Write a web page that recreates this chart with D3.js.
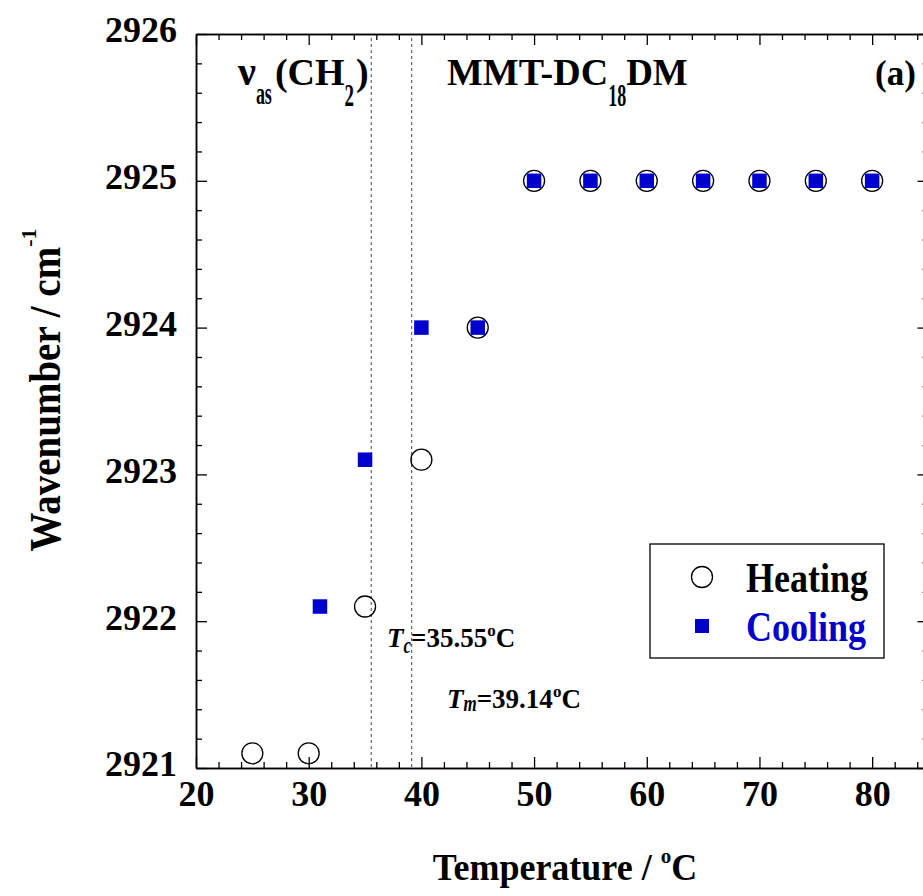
<!DOCTYPE html>
<html>
<head>
<meta charset="utf-8">
<script src="https://cdn.jsdelivr.net/npm/d3@7"></script>
<style>
  html, body { margin: 0; padding: 0; background: #fff; }
  svg { display: block; }
  text { font-family: "Liberation Serif", "Times New Roman", serif; font-weight: bold; white-space: pre; }
</style>
</head>
<body>
<svg id="chart" width="923" height="896"></svg>
<script>
// Heating / cooling scans of the CH2 antisymmetric stretch
const heatingTemp = [25, 30, 35, 40, 45, 50, 55, 60, 65, 70, 75, 80];
const heatingWavenumber = [2921.1, 2921.1, 2922.1, 2923.1, 2924.0, 2925.0, 2925.0, 2925.0, 2925.0, 2925.0, 2925.0, 2925.0];
const coolingTemp = [31, 35, 40, 45, 50, 55, 60, 65, 70, 75, 80];
const coolingWavenumber = [2922.1, 2923.1, 2924.0, 2924.0, 2925.0, 2925.0, 2925.0, 2925.0, 2925.0, 2925.0, 2925.0];

// Transition temperatures (crystallisation, melting)
const transitionNames = ["c", "m"];
const transitionTemp = [35.55, 39.14];

const seriesNames = ["Heating", "Cooling"];
const seriesColors = ["#000000", "#0000cc"];

const xDomain = [20, 85];
const yDomain = [2921, 2926];
const xMajorTicks = [20, 30, 40, 50, 60, 70, 80];
const yMajorTicks = [2921, 2922, 2923, 2924, 2925, 2926];

const svg = d3.select("#chart");
const plotLeft = 196, plotRight = 928.5, plotTop = 34, plotBottom = 768;

const x = d3.scaleLinear().domain(xDomain).range([plotLeft, plotRight]);
const y = d3.scaleLinear().domain(yDomain).range([plotBottom, plotTop]);

const xMinor = d3.range(22, 85, 2).filter(v => v % 10 !== 0);
const yMinor = d3.range(1, 25).map(i => +(2921 + i * 0.2).toFixed(1)).filter(v => !Number.isInteger(v));

function styleAxis(g) {
  g.selectAll("path.domain").attr("stroke", "#000").attr("stroke-width", 1.5);
  g.selectAll(".tick line").attr("stroke", "#000").attr("stroke-width", 1.3);
  g.selectAll(".tick text").attr("font-size", 36).attr("fill", "#000")
    .attr("font-family", "'Liberation Serif', 'Times New Roman', serif").attr("font-weight", "bold");
}

// bottom axis
svg.append("g").attr("transform", `translate(0,${plotBottom})`)
  .call(d3.axisBottom(x).tickValues(xMajorTicks).tickSizeInner(-11).tickSizeOuter(0).tickPadding(12).tickFormat(d3.format("d")))
  .call(styleAxis);
svg.append("g").attr("transform", `translate(0,${plotBottom})`)
  .call(d3.axisBottom(x).tickValues(xMinor).tickSizeInner(-6).tickSizeOuter(0).tickFormat(""))
  .call(styleAxis);
// top axis
svg.append("g").attr("transform", `translate(0,${plotTop})`)
  .call(d3.axisTop(x).tickValues(xMajorTicks).tickSizeInner(-11).tickSizeOuter(0).tickFormat(""))
  .call(styleAxis);
svg.append("g").attr("transform", `translate(0,${plotTop})`)
  .call(d3.axisTop(x).tickValues(xMinor).tickSizeInner(-6).tickSizeOuter(0).tickFormat(""))
  .call(styleAxis);
// left axis
svg.append("g").attr("transform", `translate(${plotLeft},0)`)
  .call(d3.axisLeft(y).tickValues(yMajorTicks).tickSizeInner(-11).tickSizeOuter(0).tickPadding(19).tickFormat(d3.format("d")))
  .call(styleAxis)
  .call(g => g.selectAll(".tick text").attr("dy", "0.22em"));
svg.append("g").attr("transform", `translate(${plotLeft},0)`)
  .call(d3.axisLeft(y).tickValues(yMinor).tickSizeInner(-6).tickSizeOuter(0).tickFormat(""))
  .call(styleAxis);
// right axis
svg.append("g").attr("transform", `translate(${plotRight},0)`)
  .call(d3.axisRight(y).tickValues(yMajorTicks).tickSizeInner(-11).tickSizeOuter(0).tickFormat(""))
  .call(styleAxis);
svg.append("g").attr("transform", `translate(${plotRight},0)`)
  .call(d3.axisRight(y).tickValues(yMinor).tickSizeInner(-6).tickSizeOuter(0).tickFormat(""))
  .call(styleAxis);

// transition markers
svg.append("g").selectAll("line").data(transitionTemp).join("line")
  .attr("x1", d => x(d)).attr("x2", d => x(d))
  .attr("y1", plotTop + 4).attr("y2", plotBottom)
  .attr("stroke", "#444").attr("stroke-width", 1).attr("stroke-dasharray", "3,3");

// Heating: open circles
svg.append("g").selectAll("circle").data(heatingTemp).join("circle")
  .attr("cx", d => x(d)).attr("cy", (d, i) => y(heatingWavenumber[i]))
  .attr("r", 10.5).attr("fill", "none").attr("stroke", seriesColors[0]).attr("stroke-width", 1.3);

// Cooling: filled squares
const sq = 14.5;
svg.append("g").selectAll("rect").data(coolingTemp).join("rect")
  .attr("x", d => x(d) - sq / 2).attr("y", (d, i) => y(coolingWavenumber[i]) - sq / 2)
  .attr("width", sq).attr("height", sq).attr("fill", seriesColors[1]);

// rich text: a run of pieces, each with own size, offset and vertical stretch
function rich(parent, x0, y0, parts, anchor) {
  const g = parent.append("g");
  let cx = 0;
  const nodes = [];
  parts.forEach(p => {
    const t = g.append("text")
      .attr("font-size", p.size)
      .attr("font-style", p.italic ? "italic" : "normal")
      .attr("fill", p.fill || "#000")
      .text(p.t);
    nodes.push({ t, p, x: cx });
    cx += t.node().getComputedTextLength() + (p.gap || 0);
  });
  const off = anchor === "middle" ? -cx / 2 : 0;
  nodes.forEach(n => {
    n.t.attr("transform", `translate(${x0 + off + n.x},${y0 + (n.p.dy || 0)}) scale(1,${n.p.sy || 1})`);
  });
  return g;
}

// band label and sample name
rich(svg, 238, 85, [
  { t: "ν", size: 40 },
  { t: "as", size: 18, sy: 1.8, dy: 19, gap: 3 },
  { t: "(CH", size: 38 },
  { t: "2", size: 19, sy: 1.7, dy: 21, gap: 2 },
  { t: ")", size: 38 }
]);
rich(svg, 447, 85, [
  { t: "MMT-DC", size: 38 },
  { t: "18", size: 18, sy: 1.75, dy: 21 },
  { t: "DM", size: 37 }
]);
rich(svg, 875, 85, [{ t: "(a)", size: 35, sy: 1.05 }]);

// transition temperature labels
const annotPos = [[387, 647], [447, 708]];
transitionTemp.forEach((v, i) => {
  rich(svg, annotPos[i][0], annotPos[i][1], [
    { t: "T", size: 27, italic: true },
    { t: transitionNames[i], size: 17, italic: true, sy: 1.3, dy: i === 0 ? 6 : 3 },
    { t: "=" + v.toFixed(2), size: 27 },
    { t: "o", size: 17, dy: -11 },
    { t: "C", size: 27 }
  ]);
});

// legend
const lg = svg.append("g");
lg.append("rect").attr("x", 650).attr("y", 544).attr("width", 234).attr("height", 114)
  .attr("fill", "#fff").attr("stroke", "#000").attr("stroke-width", 1.3);
lg.append("circle").attr("cx", 702).attr("cy", 577).attr("r", 10.5)
  .attr("fill", "none").attr("stroke", seriesColors[0]).attr("stroke-width", 1.3);
lg.append("rect").attr("x", 702 - 7).attr("y", 626 - 7).attr("width", 14).attr("height", 14)
  .attr("fill", seriesColors[1]);
rich(lg, 746, 592, [{ t: seriesNames[0], size: 36, sy: 1.15, fill: seriesColors[0] }]);
rich(lg, 746, 641, [{ t: seriesNames[1], size: 36, sy: 1.15, fill: seriesColors[1] }]);

// axis titles
rich(svg, 565, 880, [
  { t: "Temperature /\u00a0", size: 36, sy: 1.08 },
  { t: "o", size: 21, dy: -17 },
  { t: "C", size: 36, sy: 1.08 }
], "middle");
const yt = svg.append("g").attr("transform", "translate(60,390) rotate(-90)");
rich(yt, 0, 0, [
  { t: "Wavenumber / cm", size: 39, sy: 1.15 },
  { t: "-1", size: 22, dy: -24 }
], "middle");
</script>
</body>
</html>
